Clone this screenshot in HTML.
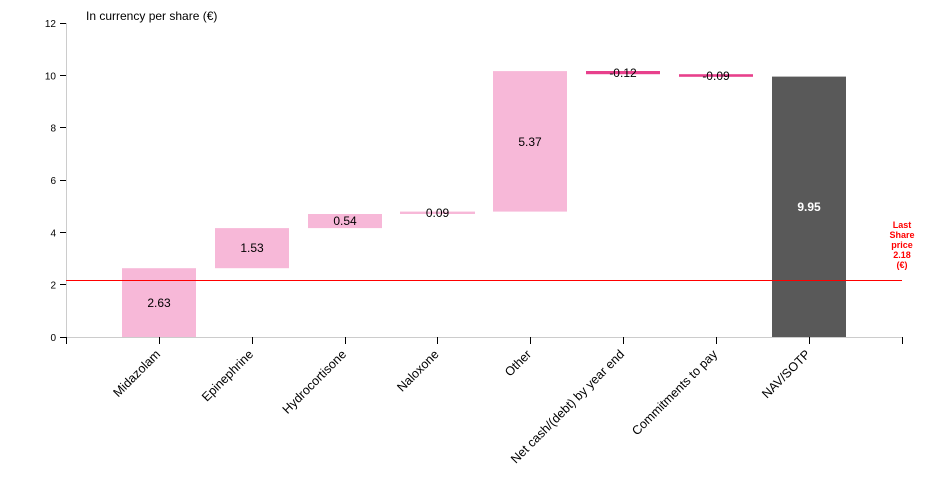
<!DOCTYPE html>
<html><head><meta charset="utf-8"><style>
body{margin:0;background:#fff}
svg{font-family:"Liberation Sans",Arial,sans-serif;display:block}
</style></head><body>
<svg width="930" height="500" viewBox="0 0 930 500">
<g font-size="10" text-anchor="end" fill="#000">
<line x1="66.5" y1="23" x2="66.5" y2="337" stroke="#ccc"/>
<g stroke="#000">
<line x1="60" y1="337.5" x2="66" y2="337.5"/><line x1="60" y1="284.5" x2="66" y2="284.5"/>
<line x1="60" y1="232.5" x2="66" y2="232.5"/><line x1="60" y1="180.5" x2="66" y2="180.5"/>
<line x1="60" y1="127.5" x2="66" y2="127.5"/><line x1="60" y1="75.5" x2="66" y2="75.5"/>
<line x1="60" y1="23.5" x2="66" y2="23.5"/>
</g>
<text x="56" y="341">0</text><text x="56" y="288.7">2</text><text x="56" y="236.3">4</text>
<text x="56" y="184">6</text><text x="56" y="131.7">8</text><text x="56" y="79.3">10</text><text x="56" y="27">12</text>
</g>
<text x="86" y="20" font-size="12">In currency per share (€)</text>
<line x1="66" y1="337.5" x2="902" y2="337.5" stroke="#ccc"/>
<g stroke="#000">
<line x1="66.5" y1="337" x2="66.5" y2="344"/><line x1="902.5" y1="337" x2="902.5" y2="344"/>
<line x1="159.5" y1="337" x2="159.5" y2="344"/><line x1="252.5" y1="337" x2="252.5" y2="344"/>
<line x1="345.5" y1="337" x2="345.5" y2="344"/><line x1="437.5" y1="337" x2="437.5" y2="344"/>
<line x1="530.5" y1="337" x2="530.5" y2="344"/><line x1="623.5" y1="337" x2="623.5" y2="344"/>
<line x1="716.5" y1="337" x2="716.5" y2="344"/><line x1="809.5" y1="337" x2="809.5" y2="344"/>
</g>
<g fill="#f7b8d8">
<rect x="122" y="268.2" width="74" height="68.8"/>
<rect x="215" y="228.1" width="74" height="40.1"/>
<rect x="308" y="214" width="74" height="14.1"/>
<rect x="400" y="211.6" width="75" height="2.4"/>
<rect x="493" y="71.1" width="74" height="140.5"/>
</g>
<rect x="586" y="71" width="74" height="3.2" fill="#e8408c"/>
<rect x="679" y="74.2" width="74" height="2.6" fill="#e8408c"/>
<rect x="772" y="76.6" width="74" height="260.4" fill="#595959"/>
<line x1="66" y1="280.5" x2="902" y2="280.5" stroke="#f00"/>
<g font-size="12" text-anchor="middle" fill="#000">
<text x="159" y="307">2.63</text>
<text x="252" y="252">1.53</text>
<text x="345" y="225">0.54</text>
<text x="437.5" y="217">0.09</text>
<text x="530" y="146">5.37</text>
<text x="623" y="77">-0.12</text>
<text x="716" y="80">-0.09</text>
<text x="809" y="211" fill="#fff" font-weight="bold">9.95</text>
</g>
<g font-size="9" font-weight="bold" fill="#f00" text-anchor="middle">
<text x="902" y="228">Last</text><text x="902" y="238">Share</text><text x="902" y="248">price</text>
<text x="902" y="258">2.18</text><text x="902" y="268">(€)</text>
</g>
<g font-size="12.5" text-anchor="end" fill="#000">
<text transform="translate(161,355) rotate(-45)">Midazolam</text>
<text transform="translate(254,355) rotate(-45)">Epinephrine</text>
<text transform="translate(347,355) rotate(-45)">Hydrocortisone</text>
<text transform="translate(439.5,355) rotate(-45)">Naloxone</text>
<text transform="translate(532,355) rotate(-45)">Other</text>
<text transform="translate(625,355) rotate(-45)">Net cash/(debt) by year end</text>
<text transform="translate(718,355) rotate(-45)">Commitments to pay</text>
<text transform="translate(811,355) rotate(-45)">NAV/SOTP</text>
</g>
</svg>
</body></html>
